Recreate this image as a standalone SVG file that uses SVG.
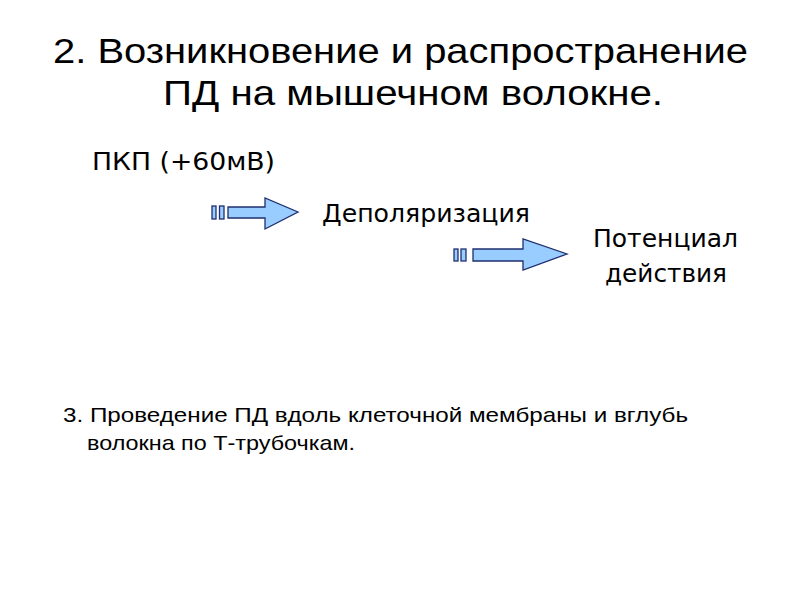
<svg xmlns="http://www.w3.org/2000/svg" width="794" height="595" viewBox="0 0 794 595">
<style>
.title{font-family:"Liberation Sans",Arial,sans-serif;font-size:35px;fill:#000}
.body{font-family:"Liberation Sans",Arial,sans-serif;font-size:21px;fill:#000}
.hand{font-family:"DejaVu Sans",sans-serif;font-size:24px;fill:#000}
.arr{fill:#99ccff;stroke:#1f2f6f;stroke-width:1.3}
</style>
<rect width="794" height="595" fill="#fff"/>
<g id="title">
<text class="title" x="53" y="63" textLength="695" lengthAdjust="spacingAndGlyphs">2. Возникновение и распространение</text>
<text class="title" x="163" y="105" textLength="500" lengthAdjust="spacingAndGlyphs">ПД на мышечном волокне.</text>
</g>
<g id="pkp"><text class="hand" x="92" y="170" textLength="183" lengthAdjust="spacingAndGlyphs">ПКП (+60мВ)</text></g>
<g id="depol"><text class="hand" x="322" y="222" textLength="208" lengthAdjust="spacingAndGlyphs">Деполяризация</text></g>
<g id="pd">
<text class="hand" x="593" y="247" textLength="145" lengthAdjust="spacingAndGlyphs">Потенциал</text>
<text class="hand" x="605" y="282" textLength="122" lengthAdjust="spacingAndGlyphs">действия</text>
</g>
<g id="connectors">
<g id="arrow1">
<rect class="arr" x="212" y="206" width="4" height="13"/>
<rect class="arr" x="219.5" y="206" width="4.5" height="13"/>
<path class="arr" d="M228,207 H265 V198 L298,212 L265,229 V218 H228 Z"/>
</g>
<g id="arrow2">
<rect class="arr" x="454" y="249" width="4" height="12"/>
<rect class="arr" x="461" y="249" width="5" height="12"/>
<path class="arr" d="M473,249 H523 V239 L567,254 L523,270 V261 H473 Z"/>
</g>
</g>
<g id="note">
<text class="body" x="63" y="422" textLength="625" lengthAdjust="spacingAndGlyphs">3. Проведение ПД вдоль клеточной мембраны и вглубь</text>
<text class="body" x="87" y="450" textLength="268" lengthAdjust="spacingAndGlyphs">волокна по Т-трубочкам.</text>
</g>
</svg>
